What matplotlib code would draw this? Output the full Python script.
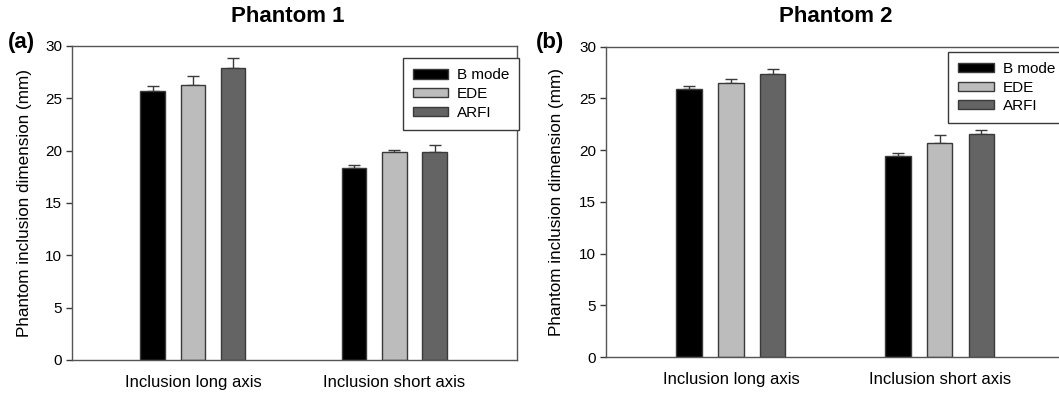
import numpy as np
import matplotlib
matplotlib.use("Agg")
import matplotlib.pyplot as plt

plt.rcParams['font.family'] = ['Liberation Sans', 'DejaVu Sans']

# data (mm)
categories = ["Inclusion long axis", "Inclusion short axis"]
methods = ["B mode", "EDE", "ARFI"]
colors = ["#000000", "#bcbcbc", "#646464"]

p1_means = {"B mode": [25.7, 18.35], "EDE": [26.25, 19.85], "ARFI": [27.85, 19.85]}
p1_err = {"B mode": [0.5, 0.25], "EDE": [0.9, 0.2], "ARFI": [0.95, 0.65]}

p2_means = {"B mode": [25.9, 19.45], "EDE": [26.45, 20.7], "ARFI": [27.4, 21.55]}
p2_err = {"B mode": [0.3, 0.3], "EDE": [0.4, 0.8], "ARFI": [0.4, 0.4]}

panels = [
    ("Phantom 1", "(a)", p1_means, p1_err, [0.068, 0.091, 0.420, 0.793]),
    ("Phantom 2", "(b)", p2_means, p2_err, [0.572, 0.098, 0.435, 0.784]),
]
title_x = [0.272, 0.789]
tag_x = [0.007, 0.506]
legend_y = [0.96, 0.983]

fig = plt.figure(figsize=(10.59, 3.96), dpi=100)
edge = "#3a3a3a"

for k, (title, tag, means, errs, pos) in enumerate(panels):
    ax = fig.add_axes(pos)
    x = np.arange(len(categories))
    for i, m in enumerate(methods):
        off = (i - 1) * 0.2
        ax.bar(x + off, means[m], width=0.122, color=colors[i], edgecolor=edge,
               linewidth=1, label=m, zorder=2)
        ax.errorbar(x + off, means[m], yerr=[np.zeros(len(x)), errs[m]], fmt='none',
                    ecolor=edge, elinewidth=1, capsize=4.5, capthick=1, zorder=1)
    ax.set_xlim(-0.6, 1.608)
    ax.set_ylim(0, 30)
    ax.set_yticks(range(0, 31, 5))
    ax.set_xticks(x)
    ax.set_xticklabels(categories, fontsize=12)
    ax.tick_params(axis='x', length=0, pad=11)
    ax.tick_params(axis='y', direction='out', length=4, width=1, color=edge,
                   labelsize=11, pad=3)
    for s in ax.spines.values():
        s.set_color("#555555")
        s.set_linewidth(1)
    ax.set_ylabel("Phantom inclusion dimension (mm)", fontsize=12.3)
    ax.yaxis.set_label_coords(-0.09, 0.5)
    leg = ax.legend(loc='upper left', bbox_to_anchor=(0.744, legend_y[k]),
                    borderaxespad=0, fancybox=False, edgecolor=edge, fontsize=11,
                    handlelength=2.3, handleheight=0.55, handletextpad=0.6,
                    labelspacing=0.3, borderpad=0.65, framealpha=1)
    leg.get_frame().set_linewidth(1)
    fig.text(title_x[k], 0.958, title, fontsize=16, fontweight='bold',
             ha='center', va='center')
    fig.text(tag_x[k], 0.892, tag, fontsize=16, fontweight='bold',
             ha='left', va='center')

fig.savefig("out.png", dpi=100, facecolor='white')
